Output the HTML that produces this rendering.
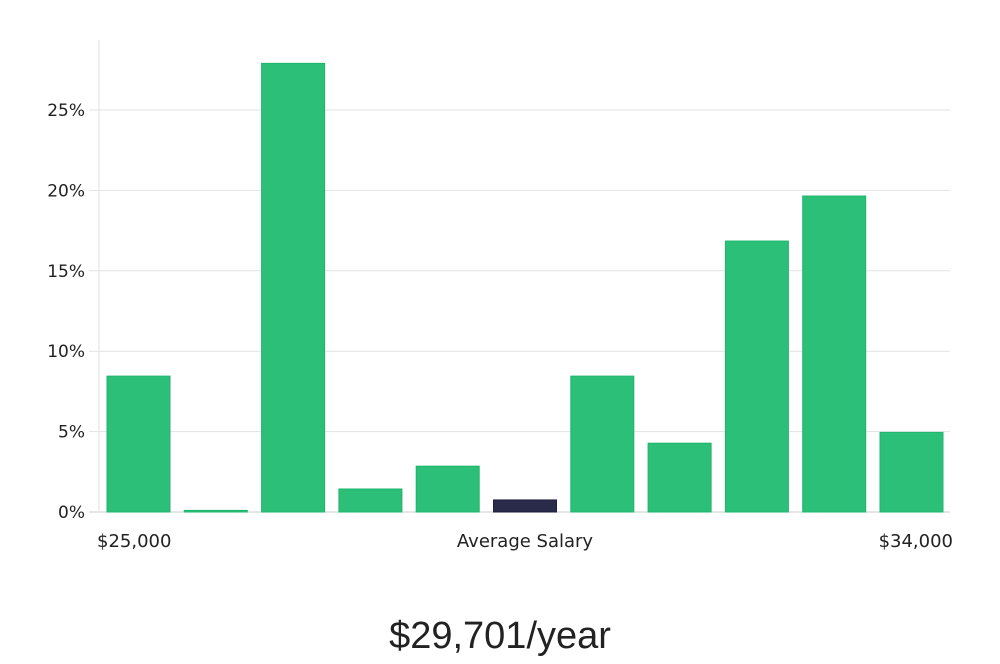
<!DOCTYPE html>
<html><head><meta charset="utf-8"><style>
body{margin:0;background:#fff;width:1000px;height:660px;overflow:hidden;font-family:"DejaVu Sans","Liberation Sans",sans-serif}
</style></head><body>
<svg width="1000" height="660" id="c"></svg>
<script>
const categories=["b1","b2","b3","b4","b5","b6","b7","b8","b9","b10","b11"];
const values=[8.45,0.1,27.9,1.43,2.85,0.75,8.45,4.28,16.85,19.65,4.95];
const highlight=[false,false,false,false,false,true,false,false,false,false,false];
const yTicks=[0,5,10,15,20,25];
const yTickLabels=["0%","5%","10%","15%","20%","25%"];
const ns="http://www.w3.org/2000/svg";
const svg=document.getElementById('c');
const x0=99,x1=950,yBase=512,pxPer=16.08;
const y=v=>yBase-v*pxPer;
const step=77.3,bw=63,start=107;
const xb=i=>start+i*step;
function mk(t,a,p){const e=document.createElementNS(ns,t);for(const k in a)e.setAttribute(k,a[k]);(p||svg).appendChild(e);return e;}
yTicks.forEach((t,i)=>{
 const g=mk('line',{x1:x0-10,x2:x1,y1:y(t),y2:y(t),stroke:t===0?'#ccc':'#e2e2e2','stroke-width':1});
 
 
 const l=mk('text',{x:85,y:y(t)+6,'text-anchor':'end','font-size':17,fill:'#222'});
 l.textContent=yTickLabels[i];
 
 
});
const ax=mk('line',{x1:x0,x2:x0,y1:40,y2:yBase,stroke:'#e0e0e0'});


values.forEach((v,i)=>{
 const h=Math.max(v*pxPer,1);
 const r=mk('rect',{x:xb(i),y:yBase-h,width:bw,height:h,fill:highlight[i]?'#2a2a4a':'#2cbf78',stroke:highlight[i]?'#1e1e3a':'#1fb56c','stroke-width':1});
 
 
});
[[97,'start','$25,000','x-min-label'],[525,'middle','Average Salary','x-axis-title'],[953,'end','$34,000','x-max-label']].forEach(d=>{
 const t=mk('text',{x:d[0],y:547,'text-anchor':d[1],'font-size':18,fill:'#222'});
 t.textContent=d[2];
 
 
});
const s=mk('text',{x:500,y:648,'text-anchor':'middle','font-size':38,fill:'#222','font-family':'"Liberation Sans",sans-serif'});
s.textContent='$29,701/year';


</script>
</body></html>
